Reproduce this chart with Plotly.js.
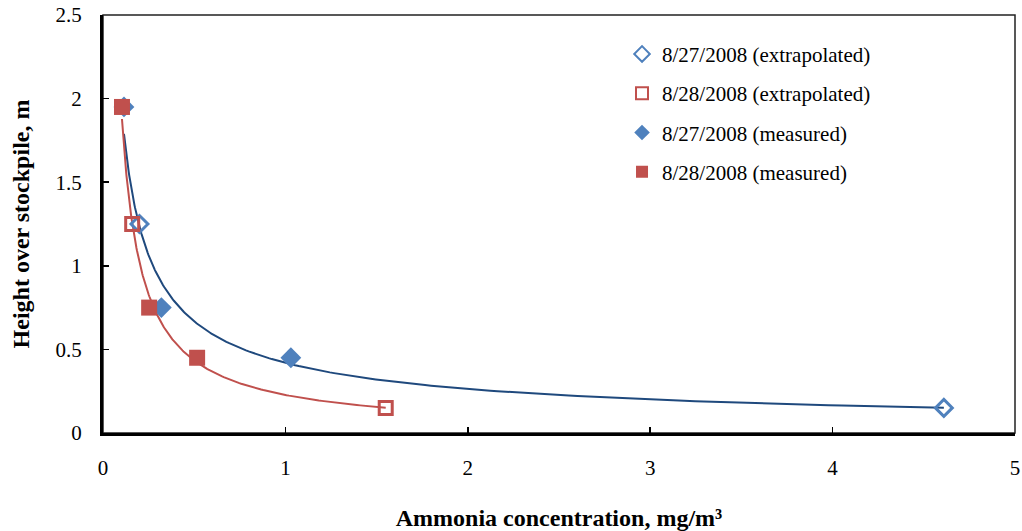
<!DOCTYPE html>
<html>
<head>
<meta charset="utf-8">
<script src="https://cdn.plot.ly/plotly-3.0.1.min.js"></script>
<style>html,body{margin:0;padding:0;background:#fff;}#chart{width:1022px;height:531px;}</style>
</head>
<body>
<div id="chart"></div>
<script>
// Data
var heights27Extrap = [1.25, 0.15];
var conc27Extrap = [0.20, 4.61];
var heights28Extrap = [1.25, 0.15];
var conc28Extrap = [0.16, 1.55];
var heights27Meas = [1.95, 0.75, 0.45];
var conc27Meas = [0.115, 0.32, 1.03];
var heights28Meas = [1.95, 0.75, 0.45];
var conc28Meas = [0.104, 0.253, 0.516];

var seriesNames = ["8/27/2008 (extrapolated)", "8/28/2008 (extrapolated)", "8/27/2008 (measured)", "8/28/2008 (measured)"];
var blue = "#4F81BD", red = "#C0504D", navy = "#1F497D";

// Power trendline (least squares in log-log space), like a spreadsheet trendline
function powerTrend(xs, ys, n) {
  var lx = xs.map(Math.log), ly = ys.map(Math.log);
  var mx = lx.reduce(function(a,b){return a+b;},0)/lx.length;
  var my = ly.reduce(function(a,b){return a+b;},0)/ly.length;
  var sxy = 0, sxx = 0;
  for (var i = 0; i < lx.length; i++) { sxy += (lx[i]-mx)*(ly[i]-my); sxx += (lx[i]-mx)*(lx[i]-mx); }
  var b = sxy/sxx, a = Math.exp(my - b*mx);
  var xmin = Math.min.apply(null, xs), xmax = Math.max.apply(null, xs);
  var tx = [], ty = [];
  for (var k = 0; k <= n; k++) {
    var x = Math.exp(Math.log(xmin) + (Math.log(xmax)-Math.log(xmin))*k/n);
    tx.push(x); ty.push(a*Math.pow(x, b));
  }
  return {x: tx, y: ty};
}
var t27 = powerTrend(conc27Meas.concat(conc27Extrap), heights27Meas.concat(heights27Extrap), 200);
var t28 = powerTrend(conc28Meas.concat(conc28Extrap), heights28Meas.concat(heights28Extrap), 200);

var traces = [
  {x: t27.x, y: t27.y, mode: "lines", line: {color: navy, width: 2}, showlegend: false, hoverinfo: "skip"},
  {x: t28.x, y: t28.y, mode: "lines", line: {color: red, width: 2}, showlegend: false, hoverinfo: "skip"},
  {x: conc27Extrap, y: heights27Extrap, name: seriesNames[0], legendgroup: "a", mode: "markers",
   marker: {symbol: "diamond-open", size: 13, color: blue, line: {color: blue, width: 3}}},
  {x: conc28Extrap, y: heights28Extrap, name: seriesNames[1], legendgroup: "b", mode: "markers",
   marker: {symbol: "square-open", size: 13, color: red, line: {color: red, width: 3}}},
  {x: conc27Meas, y: heights27Meas, name: seriesNames[2], legendgroup: "c", mode: "markers",
   marker: {symbol: "diamond", size: 16, color: blue}},
  {x: conc28Meas, y: heights28Meas, name: seriesNames[3], legendgroup: "d", mode: "markers",
   marker: {symbol: "square", size: 16, color: red}}
];

var serif = "'Liberation Serif', 'Times New Roman', serif";
var tickFont = {family: serif, size: 21, color: "#000"};
var titleFont = {family: serif, size: 24, color: "#000", weight: "bold"};
var layout = {
  width: 1022, height: 531,
  margin: {l: 103, r: 7, t: 15, b: 98},
  paper_bgcolor: "#fff", plot_bgcolor: "#fff",
  font: tickFont,
  showlegend: true,
  legend: {x: 0.5691, y: 0.955, xanchor: "left", yanchor: "top", bgcolor: "rgba(0,0,0,0)",
           font: {family: serif, size: 21, color: "#000"},
           itemsizing: "constant", tracegroupgap: 9, traceorder: "grouped"},
  xaxis: {range: [0, 5], dtick: 1, tick0: 0, showgrid: false, zeroline: false,
          showline: true, linecolor: "#000", linewidth: 3, mirror: false,
          ticks: "inside", ticklen: 6, tickwidth: 1.5, tickcolor: "#000",
          tickfont: tickFont, ticklabelstandoff: 14,
          title: {text: "Ammonia concentration, mg/m³", standoff: 30, font: titleFont}},
  yaxis: {range: [0, 2.5], dtick: 0.5, tick0: 0, showgrid: false, zeroline: false,
          showline: true, linecolor: "#000", linewidth: 3,
          ticks: "inside", ticklen: 6, tickwidth: 1.5, tickcolor: "#000",
          tickfont: tickFont, ticklabelstandoff: 14,
          title: {text: "Height over stockpile, m", standoff: 20, font: titleFont}},
  shapes: [{type: "rect", xref: "paper", yref: "paper", x0: 0, x1: 1, y0: 0, y1: 1,
            line: {color: "#222", width: 1.5}, layer: "below"}]
};

Plotly.newPlot("chart", traces, layout, {displayModeBar: false, staticPlot: true});
</script>
</body>
</html>
